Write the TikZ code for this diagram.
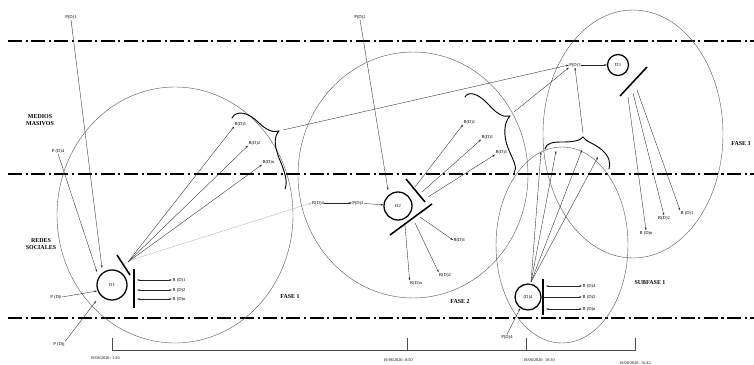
\documentclass[tikz,border=0pt]{standalone}
\usepackage{fontspec}
\setmainfont{Liberation Serif}
\usetikzlibrary{arrows.meta, positioning}

\begin{document}
\begin{tikzpicture}[x=0.05cm, y=-0.05cm,
    lbl/.style={font=\fontsize{6.5}{7.5}\selectfont, inner sep=0.6pt},
    zone/.style={font=\bfseries\fontsize{8.5}{9.5}\selectfont, align=center, inner sep=0pt},
    datum/.style={font=\fontsize{6}{7}\selectfont, inner sep=0pt},
    fase/.style={draw=black!65, line width=0.6pt},
    border/.style={line width=3pt, dash pattern=on 20pt off 5pt on 3pt off 5pt},
    dnode/.style={circle, draw, line width=1.8pt, font=\fontsize{6.5}{7}\selectfont, inner sep=0pt},
    bar/.style={line width=2.2pt},
    arr/.style={-{Stealth[length=4pt,width=2.6pt]}, line width=0.5pt, black!85},
    darr/.style={{Stealth[length=4pt,width=2.6pt]}-{Stealth[length=4pt,width=2.6pt]}, line width=0.5pt, black!85},
    curl/.style={line width=1.3pt, line cap=round}
  ]
  \useasboundingbox (0,0) rectangle (754,365);

  % zonas
  \draw[border] (8,41) -- (754,41);
  \draw[border] (8,174) -- (754,174);
  \draw[border] (8,318) -- (754,318);
  \node[zone] (medios) at (40,120) {MEDIOS\\MASIVOS};
  \node[zone] (redes) at (41,244) {REDES\\SOCIALES};

  % fases
  \draw[fase] (175,215) ellipse [x radius=5.9cm, y radius=6.4cm];
  \draw[fase] (413,175) ellipse [x radius=5.75cm, y radius=6.15cm];
  \draw[fase] (562,245) ellipse [x radius=3.3cm, y radius=4.9cm];
  \draw[fase] (633,134) ellipse [x radius=4.5cm, y radius=6.2cm];
  \node[zone] (fase1) at (290,297) {FASE 1};
  \node[zone] (fase2) at (460,302) {FASE 2};
  \node[zone] (fase3) at (741,144) {FASE 3};
  \node[zone] (subfase) at (650,283) {SUBFASE 1};

  % D1
  \node[dnode, minimum size=1.5cm] (d1) at (112,285) {D1};
  \draw[bar] (117,255) -- (130,275);
  \draw[bar] (134,269) -- (134,308);
  \node[lbl] (pd1) at (71,17) {P(D)1};
  \node[lbl] (pd4) at (58,151) {P (D)4};
  \node[lbl] (pdi) at (56,297) {P (D)i};
  \node[lbl] (pdj) at (59,344) {P (D)j};
  \coordinate (d1a) at (102,268);
  \coordinate (d1b) at (97,272);
  \coordinate (d1c) at (97,291);
  \coordinate (d1d) at (96,301);
  \draw[arr] (pd1.south) -- (d1a);
  \draw[arr] (pd4.south) -- (d1b);
  \draw[arr] (pdi.east) -- (d1c);
  \draw[arr] (pdj.north east) -- (d1d);
  \foreach \y/\t [count=\i] in {280/R (D)1, 290/R (D)2, 299/R (D)n} {
    \node[lbl, anchor=west] (rb\i) at (172,\y) {\t};
    \draw[darr] (137,\y) -- (rb\i.west);
  }
  \coordinate (d1o) at (128,262);
  \node[lbl, anchor=west] (ra1) at (234,124) {R(D)1};
  \node[lbl, anchor=west] (ra2) at (248,143) {R(D)2};
  \node[lbl, anchor=west] (ra3) at (262,162) {R(D)n};
  \foreach \i in {1,2,3} \draw[arr] (d1o) -- (ra\i.south west);

  % llaves
  \draw[curl] (232,118) .. controls (236,110) and (248,112) .. (258,122)
    .. controls (266,130) and (273,133) .. (279,131);
  \draw[curl] (279,131) .. controls (274,136) and (274,145) .. (279,158)
    .. controls (285,172) and (288,182) .. (285,189);
  \draw[curl] (465,97) .. controls (468,91) and (478,93) .. (488,104)
    .. controls (496,113) and (503,118) .. (510,116);
  \draw[curl] (510,116) .. controls (504,122) and (503,135) .. (508,148)
    .. controls (513,160) and (518,168) .. (514,173);
  \draw[curl] (545,149) .. controls (546,143) and (553,142) .. (562,142)
    .. controls (572,142) and (580,141) .. (583,137);
  \draw[curl] (583,137) .. controls (586,142) and (594,143) .. (602,150)
    .. controls (609,156) and (611,163) .. (609,169);
  \coordinate (b1t) at (283,130);
  \coordinate (b2t) at (514,112);
  \coordinate (b3t) at (583,133);

  % D2
  \node[dnode, minimum size=1.4cm] (d2) at (398,206) {D2};
  \draw[bar] (406,179) -- (425,202);
  \draw[bar] (432,204) -- (390,235);
  \node[lbl] (pd2a) at (360,17) {P(D)2};
  \coordinate (d2a) at (388,190);
  \draw[arr] (pd2a.south) -- (d2a);
  \node[lbl] (rd4) at (318,203) {R(D)4};
  \node[lbl] (pd2) at (358,203) {P(D)2};
  \draw[arr] (rd4) -- (pd2);
  \draw[arr] (pd2) -- (d2);
  \coordinate (d1g) at (131,260);
  \draw[arr, black!30] (d1g) -- (rd4.west);
  \node[lbl, anchor=west] (rc1) at (463,122) {R(D)1};
  \node[lbl, anchor=west] (rc2) at (481,137) {R(D)1};
  \node[lbl, anchor=west] (rc3) at (495,152) {R(D)1};
  \draw[arr] (415,187) -- (rc1.south west);
  \draw[arr] (422,192) -- (rc2.south west);
  \draw[arr] (428,197) -- (rc3.south west);
  \node[lbl, anchor=west] (rd1) at (453,240) {R(D)1};
  \node[lbl] (rd2) at (445,275) {R(D)2};
  \node[lbl] (rdn) at (416,283) {R(D)n};
  \draw[arr] (420,217) -- (rd1.west);
  \draw[arr] (415,223) -- (rd2.north west);
  \draw[arr] (405,225) -- (rdn.north west);

  % D3
  \node[lbl] (pd3) at (575,65) {P(D)3};
  \node[dnode, minimum size=1.05cm] (d3) at (618,65) {D3};
  \draw[bar] (620,96) -- (647,67);
  \draw[arr] (pd3) -- (d3);
  \draw[arr] (b1t) -- (pd3.west);
  \draw[arr] (b2t) -- (pd3.south west);
  \draw[arr] (b3t) -- (pd3.south);
  \node[lbl] (re1) at (687,213) {R (D)1};
  \node[lbl] (re2) at (664,218) {R(D)2};
  \node[lbl] (ren) at (646,233) {R (D)n};
  \draw[arr] (637,90) -- (re1.north west);
  \draw[arr] (633,93) -- (re2.north);
  \draw[arr] (628,97) -- (ren.north);

  % D4
  \node[dnode, minimum size=1.3cm] (d4) at (528,297) {(D)4};
  \draw[bar] (543,279) -- (543,315);
  \node[lbl, anchor=west] (rf1) at (582,286) {R (D)4};
  \node[lbl, anchor=west] (rf2) at (582,297) {R (D)2};
  \node[lbl, anchor=west] (rf3) at (582,309) {R (D)n};
  \draw[darr] (546,286) -- (rf1.west);
  \draw[arr] (543,297) -- (rf2.west);
  \draw[darr] (546,309) -- (rf3.west);
  \coordinate (d4o) at (531,282);
  \coordinate (s1) at (541,152);
  \coordinate (s2) at (556,151);
  \coordinate (s3) at (582,150);
  \coordinate (s4) at (598,157);
  \foreach \s in {s1,s2,s3,s4} \draw[arr] (d4o) -- (\s);
  \node[lbl] (pd4b) at (507,337) {P(D)4};
  \draw[arr] (pd4b.north) -- (d4.235);

  % linea de tiempo
  \coordinate (t1) at (112,338);
  \coordinate (t2) at (407,338);
  \coordinate (t3) at (526,338);
  \coordinate (t4) at (635,338);
  \draw[line width=0.6pt, black!70] (t1) -- ++(0,12) -| (t4);
  \draw[line width=0.6pt, black!70] (t2) -- ++(0,12);
  \draw[line width=0.6pt, black!70] (t3) -- ++(0,12);
  \node[datum] (h1) at (105,358) {19/06/2020: 1:26};
  \node[datum] (h2) at (398,360) {19/06/2020: 8:50};
  \node[datum] (h3) at (539,360) {19/06/2020: 10:30};
  \node[datum] (h4) at (635,363) {19/06/2020: 15:42};
\end{tikzpicture}
\end{document}
